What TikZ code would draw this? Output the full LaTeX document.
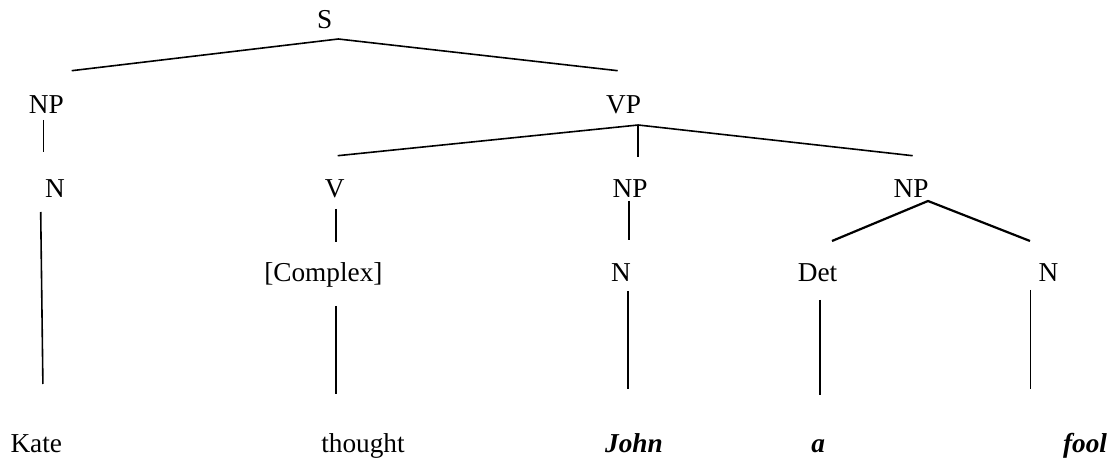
\documentclass[tikz,border=0pt]{standalone}
\usepackage{fontspec}
\setmainfont{Liberation Serif}
\begin{document}
\begin{tikzpicture}[x=1pt,y=-1pt,
  lbl/.style={anchor=base,inner sep=0pt,font=\fontsize{27.3}{32}\selectfont},
  word/.style={lbl,font=\fontsize{27.3}{32}\selectfont\bfseries\itshape},
  branch/.style={line width=1.6pt,line cap=butt},
  thick branch/.style={line width=2.2pt}]
\useasboundingbox (0,0) rectangle (1112,462);
% labels
\node[lbl] (S) at (324.7,28.3) {S};
\node[lbl] (NP1) at (46.3,114) {NP};
\node[lbl] (VP) at (623.5,114) {VP};
\node[lbl] (N1) at (55,197.3) {N};
\node[lbl] (V) at (334.7,197.3) {V};
\node[lbl] (NP2) at (630,197.3) {NP};
\node[lbl] (NP3) at (911,197.3) {NP};
\node[lbl] (Cx) at (323.4,281.7) {[Complex]};
\node[lbl] (N2) at (621,281.7) {N};
\node[lbl] (Det) at (817.5,281.7) {Det};
\node[lbl] (N3) at (1048.4,281.7) {N};
\node[lbl] (Kate) at (36.3,452.5) {Kate};
\node[lbl] (thought) at (363,452.5) {thought};
\node[word] (John) at (634,452.5) {John};
\node[word] (a) at (818.3,452.5) {a};
\node[word] (fool) at (1085,452.5) {fool};
% connector end points
\coordinate (S-b) at (338.3,39);
\coordinate (NP1-t) at (71.7,70.7);
\coordinate (VP-t) at (617.7,70.7);
\coordinate (NP1-b) at (43.3,120);
\coordinate (N1-t) at (43.3,152);
\coordinate (VP-b) at (638.2,125);
\coordinate (V-t) at (337.7,155.7);
\coordinate (NP2-t) at (638.2,156.7);
\coordinate (NP3-t) at (912.7,155.7);
\coordinate (N1-b) at (40.7,212);
\coordinate (Kate-t) at (42.9,384);
\coordinate (V-b) at (335.7,209);
\coordinate (Cx-t) at (335.7,242);
\coordinate (Cx-b) at (335.7,306);
\coordinate (thought-t) at (335.7,394);
\coordinate (NP2-b) at (629,201);
\coordinate (N2-t) at (629,240.3);
\coordinate (N2-b) at (627.8,291);
\coordinate (John-t) at (627.8,389);
\coordinate (NP3-b) at (928,201);
\coordinate (Det-t) at (832,241);
\coordinate (N3-t) at (1030,241);
\coordinate (Det-b) at (820.2,300);
\coordinate (a-t) at (820.2,395);
\coordinate (N3-b) at (1030.3,290);
\coordinate (fool-t) at (1030.3,389);
% connectors
\draw[branch] (NP1-t) -- (S-b) -- (VP-t);
\draw[branch] (NP1-b) -- (N1-t);
\draw[branch] (V-t) -- (VP-b) -- (NP3-t);
\draw[branch] (VP-b) -- (NP2-t);
\draw[branch] (N1-b) -- (Kate-t);
\draw[branch] (V-b) -- (Cx-t);
\draw[branch] (Cx-b) -- (thought-t);
\draw[branch] (NP2-b) -- (N2-t);
\draw[branch] (N2-b) -- (John-t);
\draw[thick branch] (Det-t) -- (NP3-b) -- (N3-t);
\draw[branch] (Det-b) -- (a-t);
\draw[branch] (N3-b) -- (fool-t);
\end{tikzpicture}
\end{document}
